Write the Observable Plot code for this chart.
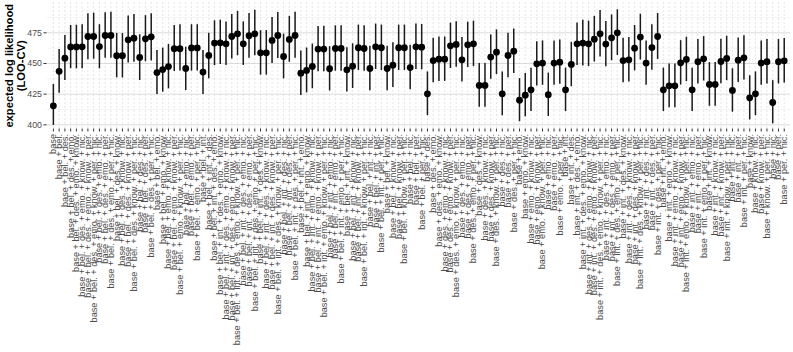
<!DOCTYPE html>
<html>
<head>
<meta charset="utf-8">
<script src="https://cdn.jsdelivr.net/npm/d3@7"></script>
<script src="https://cdn.jsdelivr.net/npm/@observablehq/plot@0.6"></script>
<style>
  html, body { margin: 0; padding: 0; background: #fff; }
  #chart svg { display: block; }
</style>
</head>
<body>
<div id="chart"></div>
<script>
// Model labels (x categories), in the order shown
const models = [
  "base",
  "base + bel.",
  "base + bel. + des.",
  "base + bel. + des. + emo.",
  "base + bel. + des. + emo. + know.",
  "base + bel. + des. + emo. + know. + nic.",
  "base + bel. + des. + emo. + know. + per.",
  "base + bel. + des. + emo. + know. + per. + nic.",
  "base + bel. + des. + emo. + nic.",
  "base + bel. + des. + emo. + per.",
  "base + bel. + des. + emo. + per. + nic.",
  "base + bel. + des. + know.",
  "base + bel. + des. + know. + nic.",
  "base + bel. + des. + know. + per.",
  "base + bel. + des. + know. + per. + nic.",
  "base + bel. + des. + nic.",
  "base + bel. + des. + per.",
  "base + bel. + des. + per. + nic.",
  "base + bel. + emo.",
  "base + bel. + emo. + know.",
  "base + bel. + emo. + know. + nic.",
  "base + bel. + emo. + know. + per.",
  "base + bel. + emo. + know. + per. + nic.",
  "base + bel. + emo. + nic.",
  "base + bel. + emo. + per.",
  "base + bel. + emo. + per. + nic.",
  "base + bel. + int.",
  "base + bel. + int. + des.",
  "base + bel. + int. + des. + emo.",
  "base + bel. + int. + des. + emo. + know.",
  "base + bel. + int. + des. + emo. + know. + nic.",
  "base + bel. + int. + des. + emo. + know. + per.",
  "base + bel. + int. + des. + emo. + know. + per. + nic.",
  "base + bel. + int. + des. + emo. + nic.",
  "base + bel. + int. + des. + emo. + per.",
  "base + bel. + int. + des. + emo. + per. + nic.",
  "base + bel. + int. + des. + know.",
  "base + bel. + int. + des. + know. + nic.",
  "base + bel. + int. + des. + know. + per.",
  "base + bel. + int. + des. + know. + per. + nic.",
  "base + bel. + int. + des. + nic.",
  "base + bel. + int. + des. + per.",
  "base + bel. + int. + des. + per. + nic.",
  "base + bel. + int. + emo.",
  "base + bel. + int. + emo. + know.",
  "base + bel. + int. + emo. + know. + nic.",
  "base + bel. + int. + emo. + know. + per.",
  "base + bel. + int. + emo. + know. + per. + nic.",
  "base + bel. + int. + emo. + nic.",
  "base + bel. + int. + emo. + per.",
  "base + bel. + int. + emo. + per. + nic.",
  "base + bel. + int. + know.",
  "base + bel. + int. + know. + nic.",
  "base + bel. + int. + know. + per.",
  "base + bel. + int. + know. + per. + nic.",
  "base + bel. + int. + nic.",
  "base + bel. + int. + per.",
  "base + bel. + int. + per. + nic.",
  "base + bel. + know.",
  "base + bel. + know. + nic.",
  "base + bel. + know. + per.",
  "base + bel. + know. + per. + nic.",
  "base + bel. + nic.",
  "base + bel. + per.",
  "base + bel. + per. + nic.",
  "base + des.",
  "base + des. + emo.",
  "base + des. + emo. + know.",
  "base + des. + emo. + know. + nic.",
  "base + des. + emo. + know. + per.",
  "base + des. + emo. + know. + per. + nic.",
  "base + des. + emo. + nic.",
  "base + des. + emo. + per.",
  "base + des. + emo. + per. + nic.",
  "base + des. + know.",
  "base + des. + know. + nic.",
  "base + des. + know. + per.",
  "base + des. + know. + per. + nic.",
  "base + des. + nic.",
  "base + des. + per.",
  "base + des. + per. + nic.",
  "base + emo.",
  "base + emo. + know.",
  "base + emo. + know. + nic.",
  "base + emo. + know. + per.",
  "base + emo. + know. + per. + nic.",
  "base + emo. + nic.",
  "base + emo. + per.",
  "base + emo. + per. + nic.",
  "base + int.",
  "base + int. + des.",
  "base + int. + des. + emo.",
  "base + int. + des. + emo. + know.",
  "base + int. + des. + emo. + know. + nic.",
  "base + int. + des. + emo. + know. + per.",
  "base + int. + des. + emo. + know. + per. + nic.",
  "base + int. + des. + emo. + nic.",
  "base + int. + des. + emo. + per.",
  "base + int. + des. + emo. + per. + nic.",
  "base + int. + des. + know.",
  "base + int. + des. + know. + nic.",
  "base + int. + des. + know. + per.",
  "base + int. + des. + know. + per. + nic.",
  "base + int. + des. + nic.",
  "base + int. + des. + per.",
  "base + int. + des. + per. + nic.",
  "base + int. + emo.",
  "base + int. + emo. + know.",
  "base + int. + emo. + know. + nic.",
  "base + int. + emo. + know. + per.",
  "base + int. + emo. + know. + per. + nic.",
  "base + int. + emo. + nic.",
  "base + int. + emo. + per.",
  "base + int. + emo. + per. + nic.",
  "base + int. + know.",
  "base + int. + know. + nic.",
  "base + int. + know. + per.",
  "base + int. + know. + per. + nic.",
  "base + int. + nic.",
  "base + int. + per.",
  "base + int. + per. + nic.",
  "base + know.",
  "base + know. + nic.",
  "base + know. + per.",
  "base + know. + per. + nic.",
  "base + nic.",
  "base + per.",
  "base + per. + nic."
];

// Point estimate of expected log likelihood (LOO-CV)
const elpd = [
  415.5, 443.6, 454.3, 463.5, 463.5, 463.6, 472.0, 472.0, 463.8, 472.8,
  472.8, 456.3, 456.3, 469.3, 470.6, 454.9, 470.1, 471.7, 442.6, 445.0,
  447.5, 462.0, 462.0, 446.0, 462.7, 462.7, 443.0, 456.5, 466.6, 466.8,
  466.0, 472.0, 474.2, 466.0, 472.6, 474.2, 458.7, 458.7, 468.8, 472.8,
  455.7, 469.6, 472.8, 442.1, 444.3, 447.6, 461.7, 461.7, 445.7, 462.2,
  462.2, 444.8, 447.8, 462.8, 462.2, 445.9, 463.6, 462.8, 445.9, 448.6,
  462.8, 462.8, 446.7, 463.6, 463.3, 425.3, 452.4, 453.5, 453.5, 464.4,
  465.5, 453.0, 465.2, 466.0, 432.1, 432.1, 455.2, 459.2, 425.3, 456.5,
  460.0, 420.1, 424.2, 428.5, 449.7, 450.3, 424.5, 450.3, 451.1, 428.5,
  449.2, 466.0, 466.6, 466.0, 469.8, 474.2, 465.8, 470.9, 475.0, 452.4,
  453.0, 462.5, 471.5, 450.3, 463.0, 472.0, 428.5, 431.8, 431.8, 450.5,
  453.3, 428.5, 451.4, 453.8, 432.9, 432.9, 451.6, 454.1, 428.0, 452.7,
  454.6, 422.0, 425.3, 450.3, 451.4, 418.2, 451.4, 452.2
];

// Lower end of each interval
const lower = [
  399.5, 425.8, 436.1, 445.7, 445.6, 445.7, 453.0, 453.5, 445.6, 454.3,
  454.3, 438.3, 438.2, 450.3, 451.0, 436.1, 451.4, 452.0, 424.7, 426.6,
  429.3, 443.5, 443.8, 428.0, 443.8, 443.8, 424.7, 437.5, 448.2, 449.2,
  448.4, 453.6, 456.3, 448.4, 454.3, 456.3, 440.5, 440.5, 450.0, 454.0,
  437.5, 451.0, 454.2, 424.0, 426.0, 429.4, 443.3, 443.2, 427.6, 443.7,
  443.7, 426.7, 429.6, 444.3, 443.7, 427.8, 445.1, 444.3, 427.8, 430.4,
  444.3, 444.3, 428.6, 445.1, 444.8, 407.5, 434.3, 435.4, 435.4, 445.9,
  447.0, 434.9, 446.7, 447.5, 414.3, 414.3, 437.1, 441.0, 407.5, 438.4,
  441.8, 402.5, 406.5, 410.8, 431.6, 432.2, 406.8, 432.2, 433.0, 410.8,
  431.1, 448.4, 448.0, 447.5, 451.2, 455.2, 447.3, 452.2, 456.5, 434.3,
  434.9, 444.0, 452.8, 432.2, 444.5, 453.3, 410.8, 414.0, 414.0, 432.4,
  435.2, 410.8, 433.3, 435.7, 415.1, 415.1, 433.5, 436.0, 410.3, 434.6,
  436.5, 404.0, 407.5, 432.2, 433.3, 400.8, 433.3, 434.1
];

// Upper end of each interval
const upper = [
  432.9, 461.4, 472.8, 481.0, 481.2, 481.6, 490.5, 491.0, 481.6, 491.3,
  491.8, 474.5, 474.4, 488.6, 490.0, 473.4, 489.0, 490.5, 460.6, 462.5,
  465.5, 481.0, 481.6, 463.3, 481.6, 481.6, 460.6, 474.7, 484.8, 485.3,
  483.9, 490.0, 492.5, 483.9, 490.8, 493.3, 476.8, 476.8, 487.5, 491.5,
  474.0, 488.4, 491.7, 460.2, 462.6, 465.8, 480.2, 480.3, 463.8, 480.7,
  480.7, 462.9, 466.0, 481.3, 480.7, 464.0, 482.1, 481.3, 464.0, 466.8,
  481.3, 481.3, 464.8, 482.1, 481.8, 443.1, 470.5, 471.6, 471.6, 482.9,
  484.0, 471.1, 483.7, 484.5, 449.9, 449.9, 473.3, 477.4, 443.1, 474.6,
  478.2, 437.7, 441.9, 446.2, 467.8, 468.4, 442.2, 468.4, 469.2, 446.2,
  467.3, 483.0, 485.2, 484.5, 488.4, 493.2, 484.3, 489.6, 493.8, 470.5,
  471.1, 481.0, 490.2, 468.4, 481.5, 490.7, 446.2, 449.6, 449.6, 468.6,
  471.4, 446.2, 469.5, 471.9, 450.7, 450.7, 469.7, 472.2, 445.7, 470.8,
  472.7, 440.0, 443.1, 468.4, 469.5, 436.0, 469.5, 470.3
];

const yTicks = [400, 425, 450, 475];
const yMinorTicks = [412.5, 437.5, 462.5, 487.5];
const yTitle = "expected log likelihood\n(LOO-CV)";

const rows = models.map((m, i) => ({model: m, elpd: elpd[i], lo: lower[i], hi: upper[i]}));

const chart = Plot.plot({
  width: 793,
  height: 352,
  marginLeft: 46.5,
  marginRight: 3,
  marginTop: 2,
  marginBottom: 223.5,
  style: {fontFamily: "'Liberation Sans', Arial, sans-serif", fontSize: "8.8px", color: "#4d4d4d", background: "#fff"},
  x: {type: "point", domain: models, range: [50, 786.6], label: null},
  y: {domain: [396.6, 499.7], label: null},
  marks: [
    Plot.gridY(yMinorTicks, {stroke: "#ececec", strokeOpacity: 1, strokeWidth: 0.6}),
    Plot.gridY(yTicks, {stroke: "#d2d2d2", strokeOpacity: 1, strokeWidth: 0.8}),
    Plot.gridX(models, {stroke: "#d4d4d4", strokeOpacity: 1, strokeWidth: 0.6, strokeDasharray: "2,2"}),
    Plot.ruleX(rows, {x: "model", y1: "lo", y2: "hi", stroke: "#1a1a1a", strokeWidth: 1.5}),
    Plot.dot(rows, {x: "model", y: "elpd", r: 3.4, fill: "#000", stroke: null}),
    Plot.axisX(models, {tickRotate: -90, tickSize: 3, tickPadding: 2, stroke: "#333", fill: "#4d4d4d", fontSize: 9.2, label: null}),
    Plot.axisY(yTicks, {tickSize: 3, tickPadding: 2, stroke: "#333", fill: "#4d4d4d", fontSize: 8.8, label: null}),
    Plot.text([yTitle], {frameAnchor: "left", rotate: -90, dx: -43, lineAnchor: "top", textAnchor: "middle",
      fontSize: 11.2, fontWeight: "bold", fill: "#000", lineHeight: 1.1})
  ]
});
document.getElementById("chart").appendChild(chart);
</script>
</body>
</html>
